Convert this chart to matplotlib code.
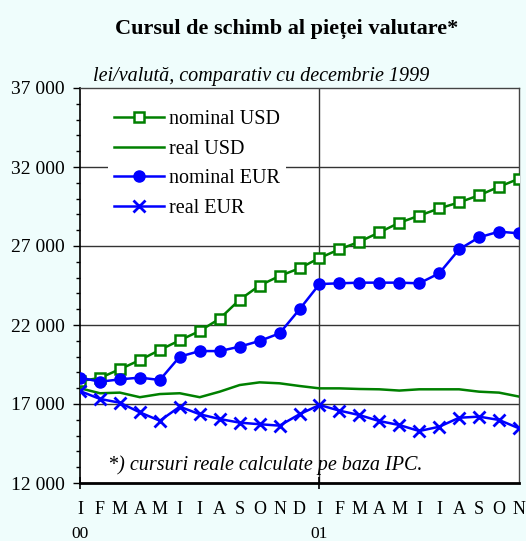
import numpy as np
import matplotlib
matplotlib.use("Agg")
import matplotlib.pyplot as plt

# months Jan 2000 .. Nov 2001
months = ["I", "F", "M", "A", "M", "I", "I", "A", "S", "O", "N", "D",
          "I", "F", "M", "A", "M", "I", "I", "A", "S", "O", "N"]
years = {0: "00", 12: "01"}

nominal_usd = [18450, 18650, 19200, 19780, 20420, 21030, 21620, 22400, 23600, 24500,
               25100, 25590, 26240, 26790, 27270, 27860, 28470, 28920, 29380, 29760,
               30210, 30750, 31260]
real_usd = [18000, 17680, 17720, 17430, 17630, 17680, 17430, 17780, 18200, 18370,
            18310, 18140, 17990, 17990, 17950, 17930, 17850, 17930, 17930, 17930,
            17780, 17720, 17470]
nominal_eur = [18670, 18410, 18560, 18670, 18520, 20000, 20350, 20350, 20630, 20990,
               21470, 22990, 24590, 24640, 24680, 24680, 24680, 24640, 25270, 26790,
               27550, 27910, 27800]
real_eur = [17820, 17320, 17080, 16470, 15940, 16830, 16350, 16050, 15820, 15720,
            15630, 16350, 16940, 16580, 16300, 15920, 15670, 15290, 15560, 16130,
            16200, 15990, 15460]

plt.rcParams['font.family'] = ['Liberation Serif', 'DejaVu Serif']

fig = plt.figure(figsize=(5.26, 5.41), dpi=100)
fig.patch.set_facecolor('#effdfc')
ax = fig.add_axes([80/526, 1-483/541, 439/526, 395/541])
ax.set_facecolor('white')

x = np.arange(len(months))
green = '#008000'
blue = '#0000ff'

ax.plot(x, nominal_usd, color=green, lw=1.8, marker='s', ms=7.5,
        mfc='white', mec=green, mew=1.8, label='nominal USD', zorder=4)
ax.plot(x, real_usd, color=green, lw=1.8, label='real USD', zorder=3)
ax.plot(x, nominal_eur, color=blue, lw=1.8, marker='o', ms=8,
        mfc=blue, mec=blue, label='nominal EUR', zorder=4)
ax.plot(x, real_eur, color=blue, lw=1.8, marker='x', ms=8, mew=2,
        label='real EUR', zorder=4)

ax.set_xlim(0, 22)
ax.set_ylim(12000, 37000)

# grid
for v in [17000, 22000, 27000, 32000]:
    ax.axhline(v, color='#333333', lw=1, zorder=1)
ax.axvline(12, color='#333333', lw=1, zorder=1)

ax.set_yticks(np.arange(12000, 37001, 5000))
ax.set_yticklabels([f"{v // 1000} 000" for v in range(12000, 37001, 5000)], fontsize=14)
ax.set_yticks(np.arange(12000, 37001, 1000), minor=True)
ax.tick_params(axis='y', which='major', direction='out', length=5, width=1, pad=6)
ax.tick_params(axis='y', which='minor', direction='out', length=3, width=1)

ax.set_xticks([0, 12])
ax.set_xticklabels([])
ax.tick_params(axis='x', which='major', direction='inout', length=9, width=1.2)

for s in ['top', 'right']:
    ax.spines[s].set_color('#444444')
    ax.spines[s].set_linewidth(1)
ax.spines['left'].set_linewidth(1.2)
ax.spines['bottom'].set_linewidth(2)

for i, m in enumerate(months):
    ax.annotate(m, xy=(i, 0), xycoords=('data', 'axes fraction'),
                xytext=(0, -19), textcoords='offset points',
                ha='center', va='center', fontsize=13)
for i, yl in years.items():
    ax.annotate(yl, xy=(i, 0), xycoords=('data', 'axes fraction'),
                xytext=(0, -36.5), textcoords='offset points',
                ha='center', va='center', fontsize=12.5)

leg = ax.legend(loc='upper left', bbox_to_anchor=(0.04, 0.985), fontsize=14.5,
                handlelength=2.5, handletextpad=0.25, labelspacing=0.52,
                frameon=True, fancybox=False, borderpad=0.3)
leg.get_frame().set_facecolor('white')
leg.get_frame().set_edgecolor('none')
leg.get_frame().set_alpha(1)

ax.text(0.063, 0.02, "*) cursuri reale calculate pe baza IPC.", transform=ax.transAxes,
        fontsize=14.5, style='italic', ha='left', va='bottom')

fig.text(287/526, 1-29/541, "Cursul de schimb al pieței valutare*", ha='center', va='center',
         fontsize=16, fontweight='bold')
fig.text(93/526, 1-76/541, "lei/valută, comparativ cu decembrie 1999", ha='left', va='center',
         fontsize=14.5, style='italic')

fig.savefig('out.png', dpi=100, facecolor=fig.get_facecolor())
